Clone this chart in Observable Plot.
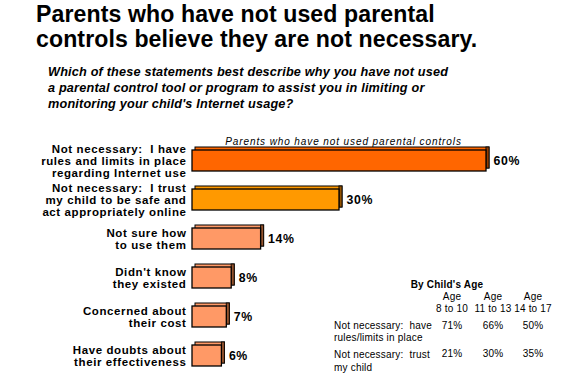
<!DOCTYPE html>
<html>
<head>
<meta charset="utf-8">
<script src="https://cdn.jsdelivr.net/npm/d3@7"></script>
<script src="https://cdn.jsdelivr.net/npm/@observablehq/plot@0.6"></script>
<style>
  html, body { margin: 0; padding: 0; background: #fff; }
  #wrap { position: relative; width: 572px; height: 392px; overflow: hidden; font-family: "Liberation Sans", Arial, sans-serif; color: #000; }
  #title { position: absolute; left: 36px; top: 2px; font-size: 23.1px; font-weight: bold; line-height: 25px; white-space: nowrap; letter-spacing: 0.1px; }
  #subtitle { position: absolute; left: 48px; top: 64px; font-size: 12.7px; font-weight: bold; font-style: italic; line-height: 16px; white-space: nowrap; letter-spacing: 0.18px; }
  #chart { position: absolute; left: 0; top: 120px; }
  #chart g.lbl text { letter-spacing: 0.6px; }
  #chart g.cap text { letter-spacing: 0.9px; }
  .t { position: absolute; font-size: 10px; white-space: pre; line-height: 12px; letter-spacing: 0.2px; }
</style>
</head>
<body>
<div id="wrap">
  <div id="title">Parents who have not used parental<br>controls believe they are not necessary.</div>
  <div id="subtitle">Which of these statements best describe why you have not used<br>a parental control tool or program to assist you in limiting or<br>monitoring your child's Internet usage?</div>
  <div id="chart"></div>
  <div id="table"></div>
</div>
<script>
// ---- data ----
const categories = [
  "Not necessary:  I have\nrules and limits in place\nregarding Internet use",
  "Not necessary:  I trust\nmy child to be safe and\nact appropriately online",
  "Not sure how\nto use them",
  "Didn't know\nthey existed",
  "Concerned about\ntheir cost",
  "Have doubts about\ntheir effectiveness"
];
const values = [60, 30, 14, 8, 7, 6];
const chartLabel = "Parents who have not used parental controls";

const tableTitle = "By Child's Age";
const ageGroups = ["8 to 10", "11 to 13", "14 to 17"];
const tableRows = ["Not necessary:  have\nrules/limits in place", "Not necessary:  trust\nmy child"];
const rulesByAge = [71, 66, 50];
const trustByAge = [21, 30, 35];

// ---- styles ----
const barColors = ["#FF6600", "#FF9900", "#FF9966", "#FF9966", "#FF9966", "#FF9966"];

const data = categories.map((c, i) => ({label: c, value: values[i]}));

const plot = Plot.plot({
  width: 572,
  height: 272,
  marginLeft: 0, marginRight: 0, marginTop: 0, marginBottom: 0,
  style: {fontFamily: "Liberation Sans, Arial, sans-serif", color: "#000", background: "transparent"},
  x: {domain: [0, 60], range: [192, 486], axis: null},
  y: {domain: categories, range: [18.6, 257.6], paddingInner: 0.47, paddingOuter: 0.235, axis: null},
  color: {domain: categories, range: barColors},
  marks: [
    // 3D back face (top strip)
    Plot.barX(data, {x: "value", y: "label", dx: 3, dy: -3, fill: "label", stroke: "#000", strokeWidth: 1}),
    // 3D side face
    Plot.barX(data, {x1: "value", x2: "value", y: "label", insetRight: -3, dy: -3, fill: "label", stroke: "#000", strokeWidth: 1}),
    Plot.barX(data, {x1: "value", x2: "value", y: "label", insetRight: -3, dy: -3, fill: "#3a1a00", fillOpacity: 0.55}),
    // front face
    Plot.barX(data, {x: "value", y: "label", fill: "label", stroke: "#000", strokeWidth: 1.3}),
    Plot.text(data, {x: 0, y: "label", text: "label", dx: -6, textAnchor: "end", fontWeight: "bold", fontSize: 11.5, lineHeight: 1.08, className: "lbl"}),
    Plot.text(data, {x: "value", y: "label", text: d => d.value + "%", dx: 7, textAnchor: "start", fontWeight: "bold", fontSize: 12.3, className: "lbl"}),
    Plot.text([chartLabel], {x: 30, frameAnchor: "top", dx: 4, dy: 17, text: d => d, fontStyle: "italic", fontSize: 10, className: "cap"})
  ]
});
document.getElementById("chart").appendChild(plot);

// ---- table (HTML text) ----
const table = document.getElementById("table");
function put(text, left, top, opts = {}) {
  const el = document.createElement("div");
  el.className = "t";
  el.textContent = text;
  el.style.left = left + "px";
  el.style.top = top + "px";
  if (opts.center) { el.style.width = "80px"; el.style.marginLeft = "-40px"; el.style.textAlign = "center"; }
  if (opts.bold) el.style.fontWeight = "bold";
  if (opts.lh) el.style.lineHeight = opts.lh + "px";
  table.appendChild(el);
}
const colCenters = [452, 493, 533];
put(tableTitle, 447, 279, {center: true, bold: true});
ageGroups.forEach((g, i) => put("Age\n" + g, colCenters[i], 291, {center: true}));
const rowTops = [320, 348];
const rowVals = [rulesByAge, trustByAge];
tableRows.forEach((r, j) => {
  put(r, 334, rowTops[j], {lh: j === 0 ? 11.5 : 13});
  rowVals[j].forEach((v, i) => put(v + "%", colCenters[i], rowTops[j], {center: true}));
});
</script>
</body>
</html>
